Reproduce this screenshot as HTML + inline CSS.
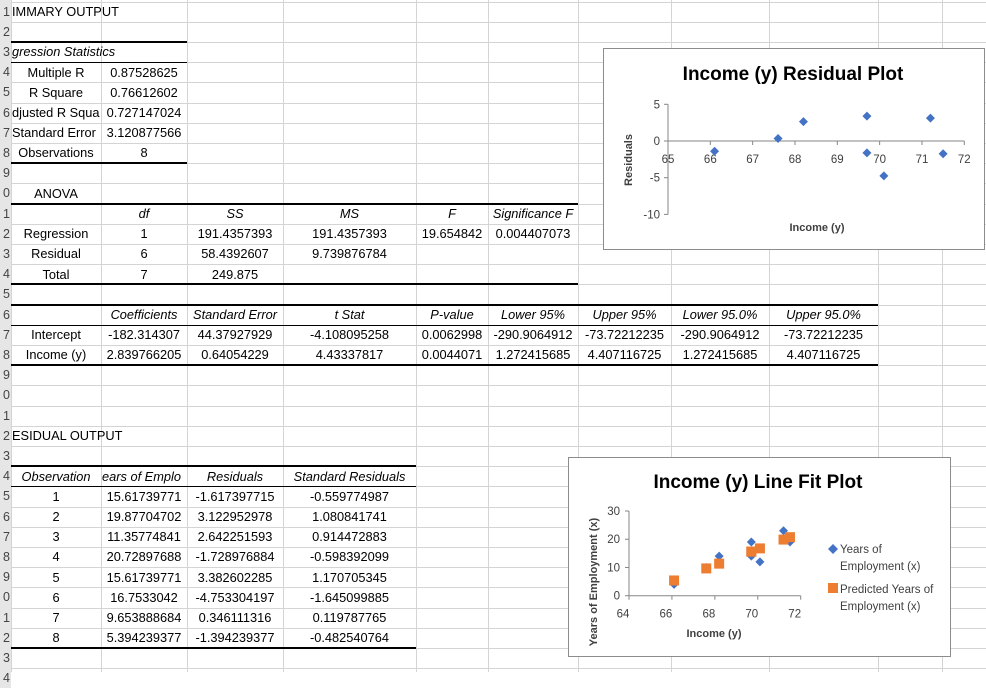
<!DOCTYPE html>
<html><head><meta charset="utf-8">
<style>
html,body{margin:0;padding:0;background:#fff;}
body{width:986px;height:672px;position:relative;overflow:hidden;font-family:"Liberation Sans",sans-serif;}
.c{position:absolute;height:20px;line-height:20px;font-size:12.8px;color:#000;white-space:nowrap;overflow:hidden;}
.c.ov{overflow:visible;}
.hdr{position:absolute;left:0;width:11px;height:20px;line-height:20px;font-size:12.5px;color:#444;overflow:hidden;background:#e6e6e6;}
.hdr span{position:absolute;right:1px;top:0;}
.ln{position:absolute;background:#000;}
svg{position:absolute;left:0;top:0;}
</style></head>
<body>
<svg id="grid" width="986" height="672"></svg>
<div id="cells"></div>
<svg id="charts" width="986" height="672"></svg>
<script>
const colX=[11,101,187,283,416,488,578,671,769,878,942,1040];
function rowTop(n){return 1.5+20.2*(n-1);}
const NS="http://www.w3.org/2000/svg";
const grid=document.getElementById('grid');
const bgh=document.createElementNS(NS,'rect');
bgh.setAttribute('x',0);bgh.setAttribute('y',0);bgh.setAttribute('width',11);bgh.setAttribute('height',672);bgh.setAttribute('fill','#e6e6e6');
grid.appendChild(bgh);
for(const x of colX){const l=document.createElementNS(NS,'line');l.setAttribute('x1',x+0.5);l.setAttribute('x2',x+0.5);l.setAttribute('y1',0);l.setAttribute('y2',672);l.setAttribute('stroke','#d4d4d4');grid.appendChild(l);}
for(let n=1;n<=35;n++){const y=Math.round(rowTop(n))+0.5;const l=document.createElementNS(NS,'line');l.setAttribute('x1',0);l.setAttribute('x2',986);l.setAttribute('y1',y);l.setAttribute('y2',y);l.setAttribute('stroke','#d4d4d4');grid.appendChild(l);}
const cells=document.getElementById('cells');
for(let n=1;n<=34;n++){
  const h=document.createElement('div');h.className='hdr';h.style.top=rowTop(n)+'px';
  const s=document.createElement('span');s.textContent=String(n%10);h.appendChild(s);
  
  
  cells.appendChild(h);
}
const cellData=[
[1,0,'IMMARY OUTPUT','l',0],
[3,0,'gression Statistics','l',1],
[4,0,'Multiple R','c',0],[4,1,'0.87528625','c',0],
[5,0,'R Square','c',0],[5,1,'0.76612602','c',0],
[6,0,'djusted R Squa','l',0],[6,1,'0.727147024','c',0],
[7,0,'Standard Error','l',0],[7,1,'3.120877566','c',0],
[8,0,'Observations','c',0],[8,1,'8','c',0],
[10,0,'ANOVA','c',0],
[11,1,'df','c',1],[11,2,'SS','c',1],[11,3,'MS','c',1],[11,4,'F','c',1],[11,5,'Significance F','c',1],
[12,0,'Regression','c',0],[12,1,'1','c',0],[12,2,'191.4357393','c',0],[12,3,'191.4357393','c',0],[12,4,'19.654842','c',0],[12,5,'0.004407073','c',0],
[13,0,'Residual','c',0],[13,1,'6','c',0],[13,2,'58.4392607','c',0],[13,3,'9.739876784','c',0],
[14,0,'Total','c',0],[14,1,'7','c',0],[14,2,'249.875','c',0],
[16,1,'Coefficients','c',1],[16,2,'Standard Error','c',1],[16,3,'t Stat','c',1],[16,4,'P-value','c',1],[16,5,'Lower 95%','c',1],[16,6,'Upper 95%','c',1],[16,7,'Lower 95.0%','c',1],[16,8,'Upper 95.0%','c',1],
[17,0,'Intercept','c',0],[17,1,'-182.314307','c',0],[17,2,'44.37927929','c',0],[17,3,'-4.108095258','c',0],[17,4,'0.0062998','c',0],[17,5,'-290.9064912','c',0],[17,6,'-73.72212235','c',0],[17,7,'-290.9064912','c',0],[17,8,'-73.72212235','c',0],
[18,0,'Income (y)','c',0],[18,1,'2.839766205','c',0],[18,2,'0.64054229','c',0],[18,3,'4.43337817','c',0],[18,4,'0.0044071','c',0],[18,5,'1.272415685','c',0],[18,6,'4.407116725','c',0],[18,7,'1.272415685','c',0],[18,8,'4.407116725','c',0],
[22,0,'ESIDUAL OUTPUT','l',0],
[24,0,'Observation','c',1],[24,1,'ears of Emplo','l',1],[24,2,'Residuals','c',1],[24,3,'Standard Residuals','c',1],
[25,0,'1','c',0],[25,1,'15.61739771','c',0],[25,2,'-1.617397715','c',0],[25,3,'-0.559774987','c',0],
[26,0,'2','c',0],[26,1,'19.87704702','c',0],[26,2,'3.122952978','c',0],[26,3,'1.080841741','c',0],
[27,0,'3','c',0],[27,1,'11.35774841','c',0],[27,2,'2.642251593','c',0],[27,3,'0.914472883','c',0],
[28,0,'4','c',0],[28,1,'20.72897688','c',0],[28,2,'-1.728976884','c',0],[28,3,'-0.598392099','c',0],
[29,0,'5','c',0],[29,1,'15.61739771','c',0],[29,2,'3.382602285','c',0],[29,3,'1.170705345','c',0],
[30,0,'6','c',0],[30,1,'16.7533042','c',0],[30,2,'-4.753304197','c',0],[30,3,'-1.645099885','c',0],
[31,0,'7','c',0],[31,1,'9.653888684','c',0],[31,2,'0.346111316','c',0],[31,3,'0.119787765','c',0],
[32,0,'8','c',0],[32,1,'5.394239377','c',0],[32,2,'-1.394239377','c',0],[32,3,'-0.482540764','c',0]
];
for(const d of cellData){
  const e=document.createElement('div');e.className='c';
  const x0=colX[d[1]],x1=colX[d[1]+1];
  e.style.left=(x0+1)+'px';e.style.width=(x1-x0-2)+'px';e.style.top=(rowTop(d[0])+0.5)+'px';
  e.style.textAlign=d[3]==='l'?'left':'center';
  if(d[0]===1||d[0]===3||d[0]===22) e.classList.add('ov');
  if(d[4])e.style.fontStyle='italic';
  e.textContent=d[2];
  
  
  cells.appendChild(e);
}
const borders=[[3,0,2,2],[4,0,2,1],[9,0,2,2],[11,0,6,2],[15,0,6,2],[16,0,9,2],[17,0,9,1],[19,0,9,2],[24,0,4,2],[25,0,4,1],[33,0,4,2]];
for(const b of borders){
  const e=document.createElement('div');e.className='ln';
  e.style.left=colX[b[1]]+'px';e.style.width=(colX[b[2]]-colX[b[1]])+'px';
  e.style.top=(Math.round(rowTop(b[0]))-(b[3]>1?1:0))+'px';e.style.height=b[3]+'px';
  
  
  cells.appendChild(e);
}
</script>
<script>
const incomeX=[69.7,71.2,68.2,71.5,69.7,70.1,67.6,66.1];
const residualsY=[-1.617,3.123,2.642,-1.729,3.383,-4.753,0.346,-1.394];
const yearsActual=[14,23,14,19,19,12,10,4];
const yearsPredicted=[15.617,19.877,11.358,20.729,15.617,16.753,9.654,5.394];
const resXTicks=[65,66,67,68,69,70,71,72];
const resYTicks=[5,0,-5,-10];
const fitXTicks=[64,66,68,70,72];
const fitYTicks=[0,10,20,30];

const ch=document.getElementById('charts');
function el(tag,attrs,parent){const e=document.createElementNS(NS,tag);for(const k in attrs)e.setAttribute(k,attrs[k]);(parent||ch).appendChild(e);return e;}
function txt(x,y,s,size,anchor,weight,parent,rot){const t=el('text',{x:x,y:y,'font-size':size,'text-anchor':anchor||'middle','font-family':'Liberation Sans, sans-serif','fill':'#404040'},parent);if(weight){t.setAttribute('font-weight',weight);}if(rot)t.setAttribute('transform','rotate(-90 '+x+' '+y+')');t.textContent=s;return t;}
function diamond(cx,cy,r,parent){return el('polygon',{points:(cx)+','+(cy-r)+' '+(cx+r)+','+cy+' '+cx+','+(cy+r)+' '+(cx-r)+','+cy,fill:'#4472C4'},parent);}

const g1=el('g',{});


el('rect',{x:603.5,y:48.5,width:381,height:201,fill:'#fff',stroke:'#8c8c8c'},g1);
const rx=v=>668+(v-65)*(964.3-668)/7;
const ry=v=>141-(v)*(141-104.3)/5;
let t=txt(793,80,'Income (y)  Residual Plot',19,'middle','bold',g1);t.setAttribute('fill','#000');
el('line',{x1:668,x2:668,y1:ry(5),y2:ry(-10),stroke:'#868686'},g1);
el('line',{x1:rx(65),x2:rx(72),y1:ry(0),y2:ry(0),stroke:'#868686'},g1);
for(const v of resYTicks){el('line',{x1:664,x2:668,y1:ry(v),y2:ry(v),stroke:'#868686'},g1);const l=txt(660,ry(v)+4,String(v),11.5,'end',null,g1);}
for(const v of resXTicks){el('line',{x1:rx(v),x2:rx(v),y1:ry(0),y2:ry(0)+4,stroke:'#868686'},g1);const l=txt(rx(v),ry(0)+22,String(v),11.5,'middle',null,g1);}
t=txt(632,160,'Residuals',11,'middle','bold',g1,true);
t=txt(817,231,'Income (y)',11,'middle','bold',g1);
for(let i=0;i<incomeX.length;i++){const p=diamond(rx(incomeX[i]),ry(residualsY[i]),4.5,g1);}

const g2=el('g',{});


el('rect',{x:568.5,y:457.5,width:382,height:199,fill:'#fff',stroke:'#8c8c8c'},g2);
const fx=v=>629+(v-64)*(800.7-629)/8;
const fy=v=>595.7-v*(595.7-511)/30;
t=txt(758,488,'Income (y) Line Fit  Plot',19,'middle','bold',g2);t.setAttribute('fill','#000');
el('line',{x1:629,x2:629,y1:fy(30),y2:fy(0),stroke:'#868686'},g2);
el('line',{x1:fx(64),x2:fx(72),y1:fy(0),y2:fy(0),stroke:'#868686'},g2);
for(const v of fitYTicks){el('line',{x1:625,x2:629,y1:fy(v),y2:fy(v),stroke:'#868686'},g2);const l=txt(620,fy(v)+4,String(v),11.5,'end',null,g2);}
for(const v of fitXTicks){el('line',{x1:fx(v),x2:fx(v),y1:fy(0),y2:fy(0)+4,stroke:'#868686'},g2);const l=txt(fx(v)-6,fy(0)+22,String(v),11.5,'middle',null,g2);}
t=txt(597,582,'Years of Employment (x)',11,'middle','bold',g2,true);
t=txt(714,637,'Income (y)',11,'middle','bold',g2);
for(let i=0;i<incomeX.length;i++){const p=diamond(fx(incomeX[i]),fy(yearsActual[i]),4.5,g2);}
for(let i=0;i<incomeX.length;i++){const p=el('rect',{x:fx(incomeX[i])-5,y:fy(yearsPredicted[i])-5,width:10,height:10,fill:'#ED7D31'},g2);}
const lg=el('g',{},g2);


diamond(833,549,5,lg);
txt(840,553,'Years of',11.5,'start',null,lg);
txt(840,570,'Employment (x)',11.5,'start',null,lg);
el('rect',{x:828,y:583,width:10,height:10,fill:'#ED7D31'},lg);
txt(840,593,'Predicted Years of',11.5,'start',null,lg);
txt(840,610,'Employment (x)',11.5,'start',null,lg);
</script>
</body></html>
